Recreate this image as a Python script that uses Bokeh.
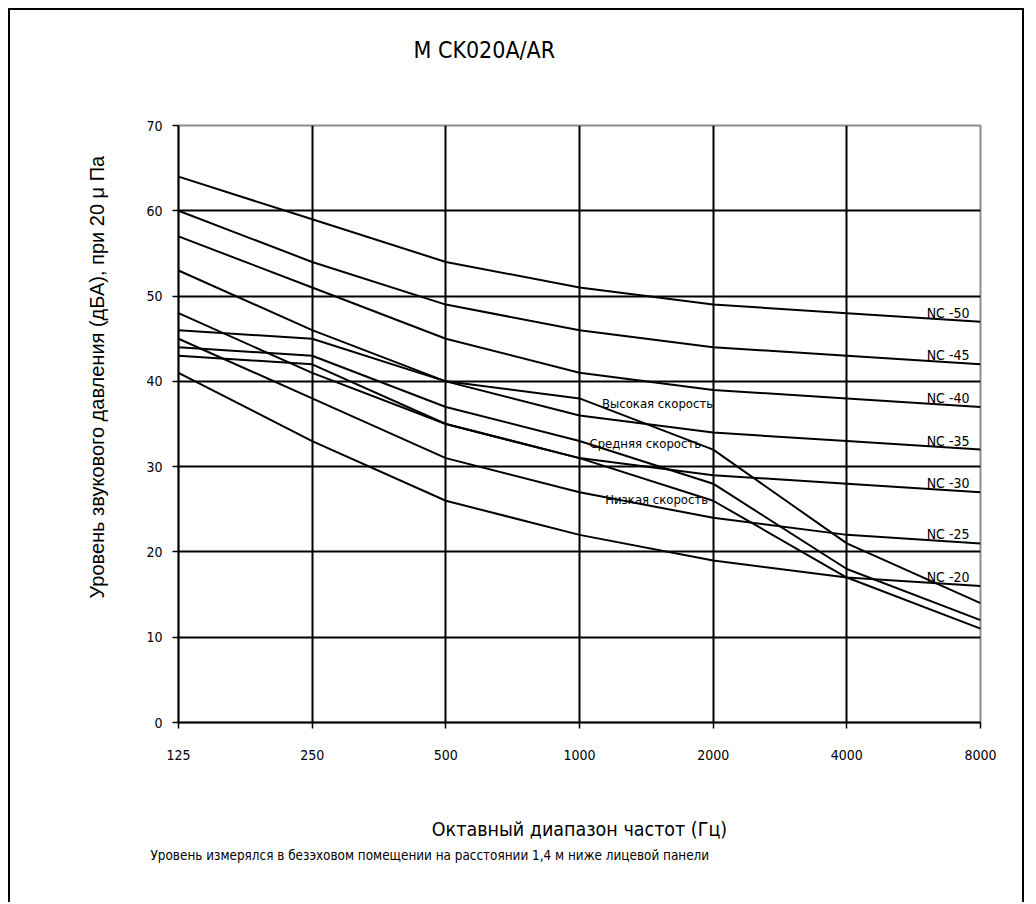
from bokeh.plotting import figure
from bokeh.models import Range1d, FixedTicker, Title, ColumnDataSource, LabelSet
from bokeh.core.properties import value
from bokeh.embed import file_html
from bokeh.resources import INLINE

# Octave band centre frequencies (Hz)
freqs = ["125", "250", "500", "1000", "2000", "4000", "8000"]

# NC reference curves (dB)
nc_names = ["NC -50", "NC -45", "NC -40", "NC -35", "NC -30", "NC -25", "NC -20"]
nc50 = [64, 59, 54, 51, 49, 48, 47]
nc45 = [60, 54, 49, 46, 44, 43, 42]
nc40 = [57, 51, 45, 41, 39, 38, 37]
nc35 = [53, 46, 40, 36, 34, 33, 32]
nc30 = [48, 41, 35, 31, 29, 28, 27]
nc25 = [45, 38, 31, 27, 24, 22, 21]
nc20 = [41, 33, 26, 22, 19, 17, 16]

# Measured fan-speed spectra (dB)
speed_names = ["Высокая скорость", "Средняя скорость", "Низкая скорость"]
high = [46, 45, 40, 38, 32, 21, 14]
medium = [44, 43, 37, 33, 28, 18, 12]
low = [43, 42, 35, 31, 26, 17, 11]
speed_label_y = [37.4, 32.7, 26.1]

y_ticks = [0, 10, 20, 30, 40, 50, 60, 70]

FONT = "DejaVu Sans Condensed"

x = list(range(len(freqs)))

p = figure(width=1016, height=894,
           x_range=Range1d(0, len(freqs) - 1), y_range=Range1d(0, 70),
           output_backend="svg", toolbar_location=None,
           min_border_left=168, min_border_right=46,
           min_border_top=115, min_border_bottom=182,
           margin=(8, 8, 0, 8))
p.styles = {"border-left": "2px solid black",
            "border-top": "2px solid black",
            "border-right": "2px solid black"}

p.background_fill_color = "white"
p.border_fill_color = "white"
p.outline_line_color = "#8c8c8c"
p.outline_line_width = 2

# Title, lifted away from the frame by an empty spacer title
p.title.text = "M CK020A/AR"
p.title.align = "left"
p.title.offset = 235
p.title.standoff = 10
p.title.text_font = FONT
p.title.text_font_size = "23px"
p.title.text_font_style = "normal"
p.title.text_color = "black"
p.add_layout(Title(text=" ", text_font_size="1px", standoff=55), "above")

# Axes
xa = p.xaxis[0]
xa.ticker = FixedTicker(ticks=x)
xa.major_label_overrides = {i: f for i, f in zip(x, freqs)}
xa.axis_label = "Октавный диапазон частот (Гц)"
ya = p.yaxis[0]
ya.ticker = FixedTicker(ticks=y_ticks)

for ax in (xa, ya):
    ax.axis_line_color = "black"
    ax.axis_line_width = 2
    ax.major_tick_line_color = "black"
    ax.major_tick_line_width = 1.5
    ax.major_tick_in = 0
    ax.major_tick_out = 6
    ax.minor_tick_line_color = None
    ax.major_label_text_font = FONT
    ax.major_label_text_font_size = "14px"
    ax.major_label_text_color = "black"
    ax.axis_label_text_font_style = "normal"
    ax.axis_label_text_color = "black"

xa.major_label_standoff = 21
xa.axis_label_text_font = FONT
xa.axis_label_text_font_size = "19.5px"
xa.axis_label_standoff = 55
ya.major_label_standoff = 10

# Y-axis caption, set as a side title so it can sit below the frame centre
y_caption = Title(text="Уровень звукового давления (дБА), при 20 μ Па",
                  align="left", offset=124, standoff=72,
                  text_font="Liberation Sans", text_font_size="20px",
                  text_font_style="normal", text_color="black")
p.add_layout(y_caption, "left")

# Grid
p.xgrid.ticker = FixedTicker(ticks=x[1:-1])
p.ygrid.ticker = FixedTicker(ticks=y_ticks[1:-1])
for g in (p.xgrid[0], p.ygrid[0]):
    g.grid_line_color = "black"
    g.grid_line_width = 2
    g.grid_line_alpha = 1

# Curves
nc_series = [nc50, nc45, nc40, nc35, nc30, nc25, nc20]
for ys in nc_series + [high, medium, low]:
    p.line(x, ys, line_color="black", line_width=2)

# NC curve labels at the right end
nc_src = ColumnDataSource(dict(x=[x[-1]] * len(nc_names),
                               y=[s[-1] for s in nc_series],
                               t=nc_names))
p.add_layout(LabelSet(x="x", y="y", text="t", source=nc_src,
                      text_align="right", text_baseline="alphabetic",
                      x_offset=-11, y_offset=4,
                      text_font=value(FONT), text_font_size="14px",
                      text_color="black"))

# Fan-speed labels
sp_src = ColumnDataSource(dict(x=[4, 4, 4], y=speed_label_y, t=speed_names,
                               xo=[0, -12, -5]))
p.add_layout(LabelSet(x="x", y="y", text="t", source=sp_src,
                      text_align="right", text_baseline="middle",
                      x_offset="xo",
                      text_font=value(FONT), text_font_size="13px",
                      text_color="black"))

# Footnote
note = Title(text="Уровень измерялся в безэховом помещении на расстоянии 1,4 м ниже лицевой панели",
             align="left", offset=-28, standoff=5,
             text_font=FONT, text_font_size="13.4px",
             text_font_style="normal", text_color="black")
p.add_layout(note, "below")

open("out.html", "w").write(file_html(p, INLINE))
